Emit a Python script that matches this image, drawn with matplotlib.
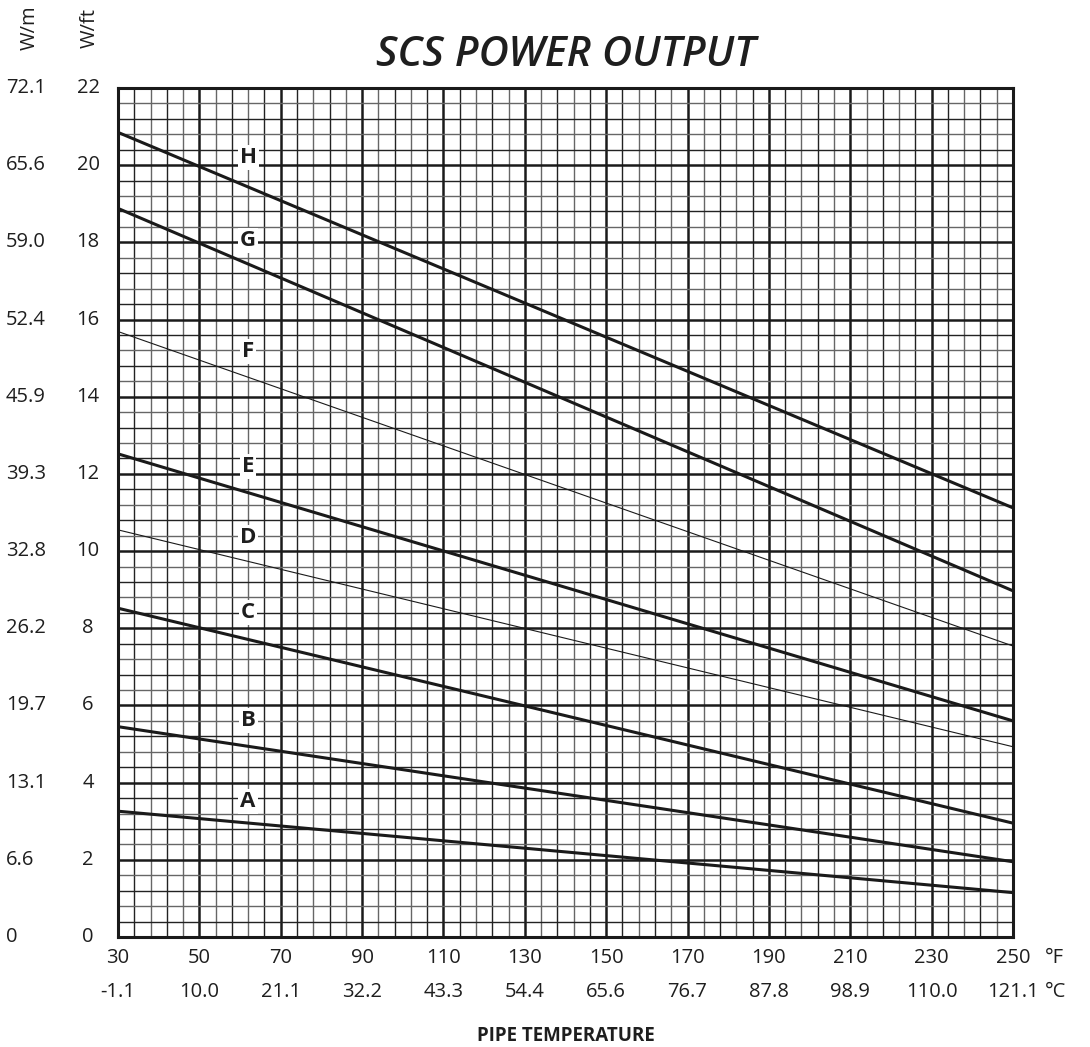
"""SCS power output chart: W/ft vs pipe temperature for cable types A-H."""

import numpy as np
import matplotlib
matplotlib.use("Agg")
import matplotlib.pyplot as plt

# Data: power (W/ft) at 30 F and at 250 F for each cable
temps_f = [30, 250]
curves = {
    "A": [3.26, 1.15],
    "B": [5.45, 1.95],
    "C": [8.52, 2.95],
    "D": [10.55, 4.93],
    "E": [12.52, 5.60],
    "F": [15.69, 7.54],
    "G": [18.88, 8.97],
    "H": [20.85, 11.12],
}
thin_curves = ["D", "F"]
# label positions (W/ft) at 62 F
label_x = 62
label_y = {"A": 3.5, "B": 5.62, "C": 8.4, "D": 10.36,
           "E": 12.18, "F": 15.16, "G": 18.06, "H": 20.2}

xticks_f = [30, 50, 70, 90, 110, 130, 150, 170, 190, 210, 230, 250]
xticks_c = ["-1.1", "10.0", "21.1", "32.2", "43.3", "54.4", "65.6",
            "76.7", "87.8", "98.9", "110.0", "121.1"]
yticks_ft = [0, 2, 4, 6, 8, 10, 12, 14, 16, 18, 20, 22]
yticks_m = ["0", "6.6", "13.1", "19.7", "26.2", "32.8", "39.3",
            "45.9", "52.4", "59.0", "65.6", "72.1"]

FONT = ["Open Sans", "DejaVu Sans"]
plt.rcParams["font.family"] = FONT
TXT = "#1e1e1e"
TS = 14.5  # tick label size

W, H = 1090, 1047
fig = plt.figure(figsize=(W / 100, H / 100), dpi=100)
ax = fig.add_axes([118 / W, 1 - 937 / H, 895 / W, 849 / H])
ax.set_xlim(30, 250)
ax.set_ylim(0, 22)

# grid: minor every 4 F / 0.4 W/ft, major every 20 F / 2 W/ft
for i, xv in enumerate(np.arange(30, 250.1, 4)):
    if i % 5 == 0:
        ax.axvline(xv, color="#1a1a1a", lw=1.8, zorder=1)
    else:
        ax.axvline(xv, color="#222222" if i % 2 else "#666666", lw=1.0, zorder=1)
for i, yv in enumerate(np.arange(0, 22.01, 0.4)):
    if i % 5 == 0:
        ax.axhline(yv, color="#1a1a1a", lw=1.8, zorder=1)
    else:
        ax.axhline(yv, color="#222222" if i % 2 else "#666666", lw=1.0, zorder=1)

for name, vals in curves.items():
    lw = 0.8 if name in thin_curves else 2.2
    ax.plot(temps_f, vals, color="#1a1a1a", lw=lw, zorder=3, solid_capstyle="butt")
    ax.text(label_x, label_y[name], name, ha="center", va="center",
            fontsize=16, fontweight="bold", color=TXT, zorder=4,
            bbox=dict(facecolor="white", edgecolor="none", pad=1.5))

for s in ax.spines.values():
    s.set_linewidth(2.2)
    s.set_color("#1a1a1a")
    s.set_zorder(5)
ax.set_xticks([])
ax.set_yticks([])

# y tick labels (two columns)
for v, m in zip(yticks_ft, yticks_m):
    yf = 1 - (88 + (22 - v) * 849 / 22) / H
    fig.text(6 / W, yf, m, ha="left", va="center", fontsize=TS, color=TXT)
    fig.text(88 / W, yf, str(v), ha="center", va="center", fontsize=TS, color=TXT)
fig.text(30 / W, 1 - 28 / H, "W/m", rotation=90, ha="center", va="center",
         fontsize=TS, color=TXT)
fig.text(90 / W, 1 - 28 / H, "W/ft", rotation=90, ha="center", va="center",
         fontsize=TS, color=TXT)

# x tick labels (F and C rows)
for f, c in zip(xticks_f, xticks_c):
    xf = (118 + (f - 30) * 895 / 220) / W
    fig.text(xf, 1 - 958 / H, str(f), ha="center", va="center", fontsize=TS, color=TXT)
    fig.text(xf, 1 - 992 / H, c, ha="center", va="center", fontsize=TS, color=TXT)
fig.text(1045 / W, 1 - 958 / H, "°F", ha="left", va="center", fontsize=TS, color=TXT)
fig.text(1045 / W, 1 - 992 / H, "°C", ha="left", va="center", fontsize=TS, color=TXT)

fig.text(566 / W, 1 - 1036 / H, "PIPE TEMPERATURE", ha="center", va="center",
         fontsize=13.5, fontweight="bold", color=TXT)
fig.text(566 / W, 1 - 55 / H, "SCS POWER OUTPUT", ha="center", va="center",
         fontsize=30, fontweight="semibold", fontstyle="italic", color=TXT)

fig.savefig("out.png", dpi=100)
